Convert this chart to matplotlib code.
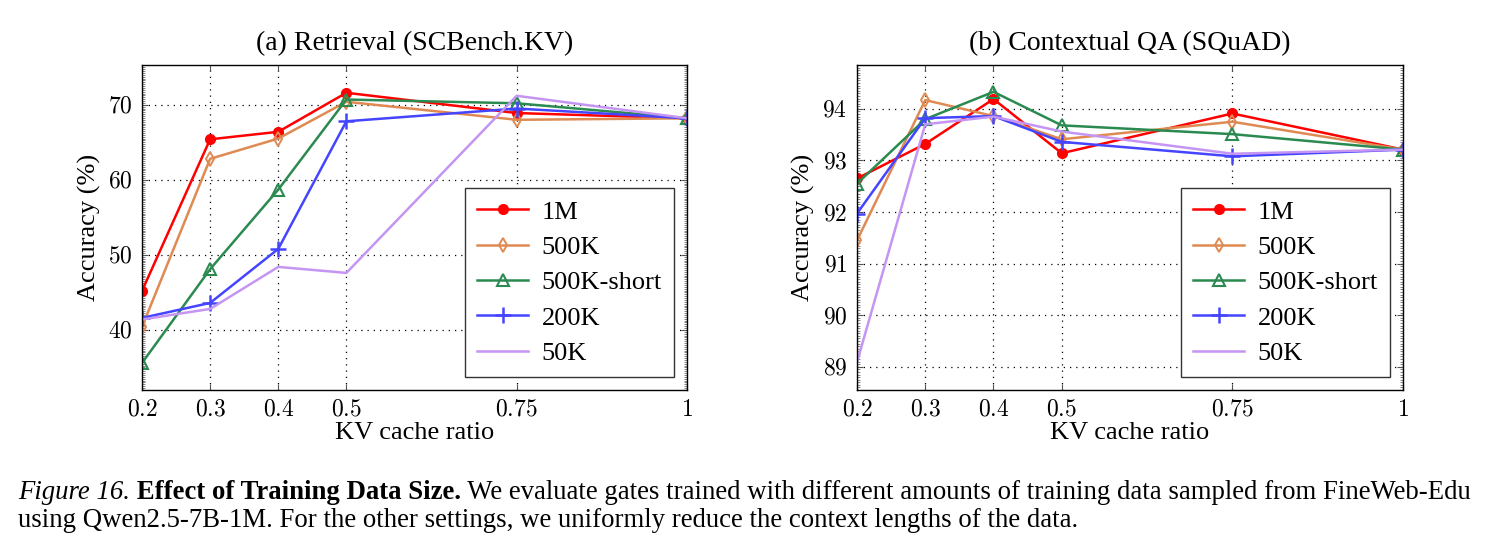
import numpy as np
import matplotlib
matplotlib.use("Agg")
import matplotlib.pyplot as plt
from matplotlib.ticker import FixedLocator, MultipleLocator, FuncFormatter

plt.rcParams['font.family'] = ['Liberation Serif', 'DejaVu Serif']
plt.rcParams['mathtext.fontset'] = 'cm'

# data
ratios = [0.2, 0.3, 0.4, 0.5, 0.75, 1.0]
series = ['1M', '500K', '500K-short', '200K', '50K']

retrieval = {
    '1M':         [45.2, 65.4, 66.4, 71.6, 68.9, 68.2],
    '500K':       [40.4, 62.8, 65.5, 70.4, 68.0, 68.2],
    '500K-short': [35.6, 48.1, 58.7, 70.7, 70.2, 68.2],
    '200K':       [41.6, 43.6, 50.8, 67.8, 69.5, 68.2],
    '50K':        [41.4, 42.8, 48.4, 47.6, 71.2, 68.2],
}
squad = {
    '1M':         [92.65, 93.32, 94.19, 93.14, 93.91, 93.21],
    '500K':       [91.45, 94.17, 93.86, 93.41, 93.75, 93.21],
    '500K-short': [92.55, 93.80, 94.33, 93.68, 93.51, 93.21],
    '200K':       [91.97, 93.82, 93.86, 93.36, 93.08, 93.21],
    '50K':        [89.09, 93.70, 93.85, 93.56, 93.13, 93.21],
}

styles = {
    '1M':         dict(color='#ff0000', marker='o', mfc='#ff0000', ms=7),
    '500K':       dict(color='#df8a52', marker='d', mfc='none', ms=7, mew=1.4),
    '500K-short': dict(color='#2a8a50', marker='^', mfc='none', ms=8, mew=1.5),
    '200K':       dict(color='#4545ff', marker='+', ms=11, mew=1.8),
    '50K':        dict(color='#c495f2', marker=None),
}

fig = plt.figure(figsize=(14.91, 5.45), dpi=100)
W, H = 1491, 545


def make_axes(x0, x1, y0, y1):
    return fig.add_axes([x0 / W, 1 - y1 / H, (x1 - x0) / W, (y1 - y0) / H])


ax1 = make_axes(142, 687, 65, 390)
ax2 = make_axes(857, 1403, 65, 390)

panels = [
    (ax1, retrieval, '(a) Retrieval (SCBench.KV)', (32.0, 75.3), [40, 50, 60, 70], 0.25),
    (ax2, squad, '(b) Contextual QA (SQuAD)', (88.55, 94.85), [89, 90, 91, 92, 93, 94], 0.05),
]

for ax, data, title, ylim, yticks, minor in panels:
    for name in series:
        ax.plot(ratios, data[name], lw=1.8, label=name, **styles[name])
    ax.set_xlim(0.2, 1.0)
    ax.set_ylim(*ylim)
    ax.xaxis.set_major_locator(FixedLocator(ratios))
    ax.yaxis.set_major_locator(FixedLocator(yticks))
    ax.yaxis.set_minor_locator(MultipleLocator(minor))
    ax.xaxis.set_major_formatter(FuncFormatter(lambda v, p: '$%g$' % v))
    ax.yaxis.set_major_formatter(FuncFormatter(lambda v, p: '$%g$' % v))
    ax.tick_params(which='both', direction='in', top=True, right=True,
                   labelsize=17, color='#555555', pad=7)
    ax.tick_params(which='major', length=4.5, width=0.8)
    ax.tick_params(which='minor', length=2.0, width=0.5, top=False)
    ax.grid(True, which='major', color='black', linestyle=(0, (1, 4)), lw=0.9)
    for sp in ax.spines.values():
        sp.set_linewidth(1.0)
    ax.set_title(title, fontsize=20, pad=11)
    ax.set_xlabel('KV cache ratio', fontsize=19, labelpad=1)
    ax.set_ylabel('Accuracy (%)', fontsize=19, labelpad=5)
    leg = ax.legend(loc='lower right', fontsize=19, handlelength=1.95,
                    labelspacing=0.45, borderpad=0.45, borderaxespad=0.5,
                    fancybox=False, framealpha=1, edgecolor='#333333',
                    handletextpad=0.5)
    leg.get_frame().set_linewidth(1.0)

# caption, built piece by piece so the fonts can mix
renderer = fig.canvas.get_renderer()
line1 = [('Figure 16.', 'italic', 'normal'),
         (' Effect of Training Data Size.', 'normal', 'bold'),
         (' We evaluate gates trained with different amounts of training data sampled from FineWeb-Edu',
          'normal', 'normal')]
line2 = [('using Qwen2.5-7B-1M. For the other settings, we uniformly reduce the context lengths of the data.',
          'normal', 'normal')]


def put_line(pieces, x0, ybase, size):
    x = x0
    for txt, st, wt in pieces:
        t = fig.text(x / W, 1 - ybase / H, txt, fontsize=size, style=st,
                     weight=wt, ha='left', va='baseline')
        x += t.get_window_extent(renderer).width
    return x - x0


# find a size so that the first line spans the text block
probe = 15.0
width = put_line(line1, 18, -100, probe)
for t in list(fig.texts):
    t.remove()
size = probe * (1458 / width)
put_line(line1, 18, 499, size)
put_line(line2, 18, 527, size)

fig.savefig('out.png', dpi=100)
